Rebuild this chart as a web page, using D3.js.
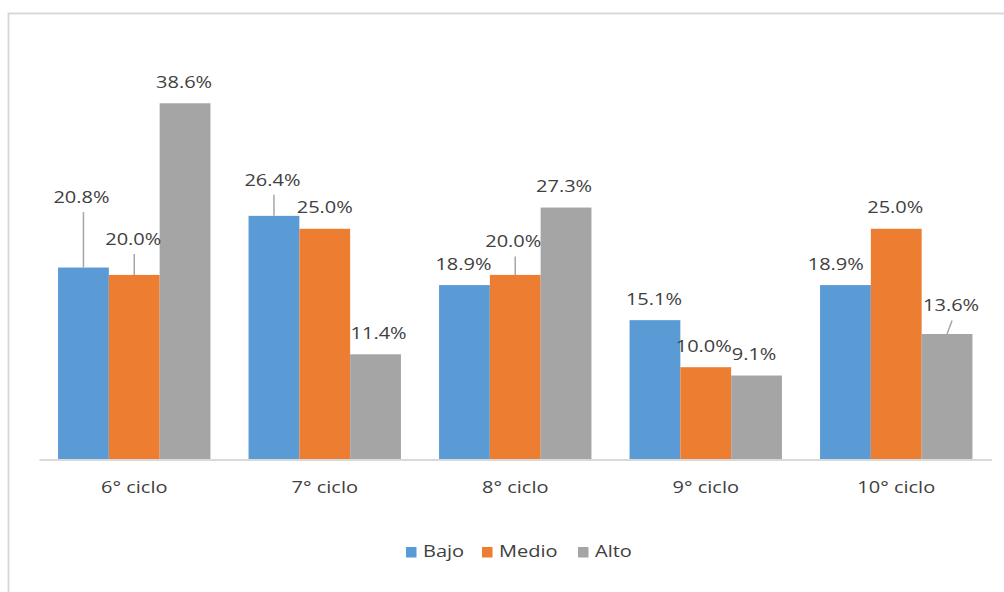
<!DOCTYPE html>
<html>
<head>
<meta charset="utf-8">
<script src="https://cdn.jsdelivr.net/npm/d3@7"></script>
<style>
  body { margin: 0; background: #fff; }
  svg text { font-family: "Open Sans", "Noto Sans", sans-serif; fill: #404040; }
</style>
</head>
<body>
<div id="chart"></div>
<script>
var categories = ["6° ciclo", "7° ciclo", "8° ciclo", "9° ciclo", "10° ciclo"];
var seriesNames = ["Bajo", "Medio", "Alto"];
var bajo  = [20.8, 26.4, 18.9, 15.1, 18.9];
var medio = [20.0, 25.0, 20.0, 10.0, 25.0];
var alto  = [38.6, 11.4, 27.3,  9.1, 13.6];
var colors = ["#5b9bd5", "#ed7d31", "#a5a5a5"];

// hand-moved data labels (dx, dy, leader line) like in the original sheet
var labelNudge = [
  [[-2, -49, true], [-1.5, -14.5, true], [-1, 0], [-1, 0], [-9.7, 0]],
  [[-1, -14.5, true], [0, 0], [-2, -12, true], [-2, 0], [-1, 0]],
  [[-1, 0], [3, 0], [-2, 0], [-2.5, 0], [4, -7, true]]
];

var width = 1004, height = 592;
var sx = 1.25; // text looks horizontally stretched in the source

var svg = d3.select("#chart").append("svg")
    .attr("width", width)
    .attr("height", height);

svg.append("rect")
    .attr("x", 8.5).attr("y", 13.5)
    .attr("width", 1100).attr("height", 700)
    .attr("fill", "none")
    .attr("stroke", "#d6d6d6")
    .attr("stroke-width", 1.8);

var x0 = d3.scaleBand()
    .domain(categories)
    .range([39, 991.5])
    .padding(0);

var x1 = d3.scaleBand()
    .domain(seriesNames)
    .range([x0.bandwidth() * 0.1, x0.bandwidth() * 0.9]);

var y = d3.scaleLinear()
    .domain([0, 45])
    .range([459.5, 44.2]);

var series = [bajo, medio, alto];

var rows = [];
series.forEach(function(vals, s) {
  vals.forEach(function(v, i) {
    rows.push({ s: s, name: seriesNames[s], cat: categories[i], i: i, v: v });
  });
});

var g = svg.append("g");

g.selectAll("rect.bar")
  .data(rows)
  .enter().append("rect")
    .attr("class", "bar")
    .attr("x", function(d) { return x0(d.cat) + x1(d.name); })
    .attr("y", function(d) { return y(d.v); })
    .attr("width", x1.bandwidth())
    .attr("height", function(d) { return y(0) - y(d.v); })
    .attr("fill", function(d) { return colors[d.s]; });

// axis
var axis = svg.append("g")
    .attr("transform", "translate(0," + y(0) + ")")
    .call(d3.axisBottom(x0).tickSize(0));
axis.select(".domain").attr("stroke", "#d9d9d9").attr("stroke-width", 1.8);
axis.selectAll("text")
    .attr("y", 33.5)
    .attr("dy", null)
    .attr("font-size", 16)
    .attr("font-family", null)
    .attr("fill", "#404040")
    .attr("transform", "scale(" + sx + ",1)");

// data labels
function lx(d) { return x0(d.cat) + x1(d.name) + x1.bandwidth() / 2; }
function ly(d) { return y(d.v) - 15.5; }

var labs = g.selectAll("g.lab")
  .data(rows)
  .enter().append("g")
    .attr("class", "lab");

labs.filter(function(d) { return labelNudge[d.s][d.i][2]; })
  .append("line")
    .attr("x1", lx)
    .attr("y1", function(d) { return y(d.v); })
    .attr("x2", function(d) {
      var n = labelNudge[d.s][d.i];
      return d.s === 2 ? lx(d) + n[0] + 1 : lx(d);
    })
    .attr("y2", function(d) { return ly(d) + labelNudge[d.s][d.i][1] + 9; })
    .attr("stroke", "#a6a6a6")
    .attr("stroke-width", 1.5);

labs.append("text")
    .attr("transform", function(d) {
      var n = labelNudge[d.s][d.i];
      return "translate(" + (lx(d) + n[0]) + "," + (ly(d) + n[1]) + ") scale(" + sx + ",1)";
    })
    .attr("text-anchor", "middle")
    .attr("font-size", 16)
    .text(function(d) { return d.v.toFixed(1) + "%"; });

// legend
var legendX = [406, 482, 578];
var leg = svg.append("g").selectAll("g")
  .data(seriesNames)
  .enter().append("g")
    .attr("transform", function(d, i) { return "translate(" + legendX[i] + ",547)"; });

leg.append("rect")
    .attr("width", 10.5).attr("height", 10.5)
    .attr("fill", function(d, i) { return colors[i]; });

leg.append("text")
    .attr("transform", "translate(" + 17 + ",10) scale(" + sx + ",1)")
    .attr("font-size", 16)
    .text(function(d) { return d; });
</script>
</body>
</html>
